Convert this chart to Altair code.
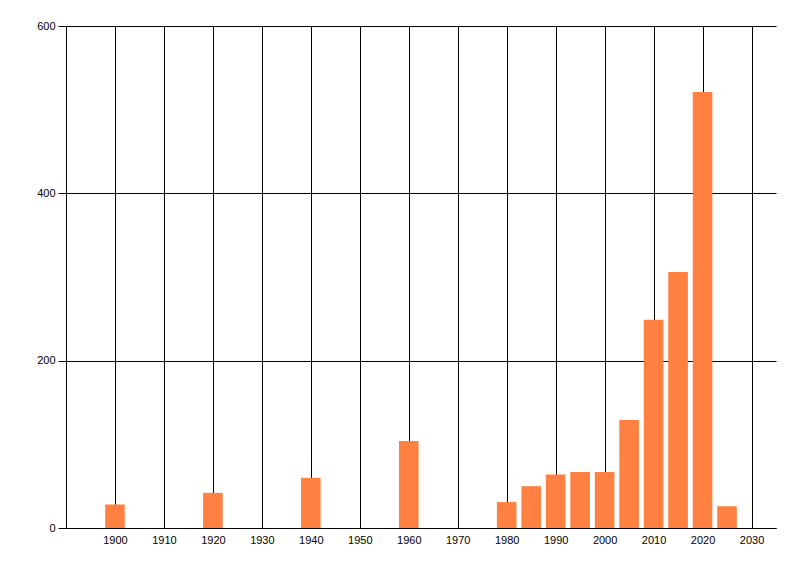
import altair as alt
import pandas as pd

years = [1900, 1920, 1940, 1960, 1980, 1985, 1990, 1995, 2000, 2005, 2010, 2015, 2020, 2025]
counts = [28, 42, 60, 104, 31, 50, 64, 67, 67, 129, 249, 306, 521, 26]
x_ticks = list(range(1900, 2031, 10))
y_ticks = [0, 200, 400, 600]

df = pd.DataFrame({"year": years, "count": counts})

base = alt.Chart(df).transform_calculate(
    x0="datum.year - 2", x1="datum.year + 2"
)

bars = base.mark_bar(color="#FF8040", opacity=1).encode(
    x=alt.X("x0:Q", scale=alt.Scale(domain=[1890, 2035], nice=False, zero=False, padding=0),
            axis=alt.Axis(values=x_ticks, format="d", title=None, grid=True,
                          gridColor="black", gridOpacity=1, gridWidth=1,
                          ticks=False, labelPadding=6, domainColor="black",
                          labelFont="Liberation Sans", labelFontSize=11,
                          labelColor="black", offset=0)),
    x2="x1:Q",
    y=alt.Y("count:Q", scale=alt.Scale(domain=[0, 600], nice=False, padding=0),
            axis=alt.Axis(values=y_ticks, title=None, grid=True,
                          gridColor="black", gridOpacity=1, gridWidth=1,
                          tickSize=8, tickColor="black", labelPadding=3,
                          domainColor="black", offset=0,
                          labelFont="Liberation Sans", labelFontSize=11,
                          labelColor="black")),
    y2=alt.datum(0),
)

chart = bars.properties(
    width=710, height=502,
    padding={"left": 58, "top": 18, "right": 16, "bottom": 32},
    autosize=alt.AutoSizeParams(type="none"),
).configure_view(stroke=None).configure_axis(domainWidth=1, tickWidth=1)

chart.save("out.html", embed_options={"renderer": "svg", "actions": False})
